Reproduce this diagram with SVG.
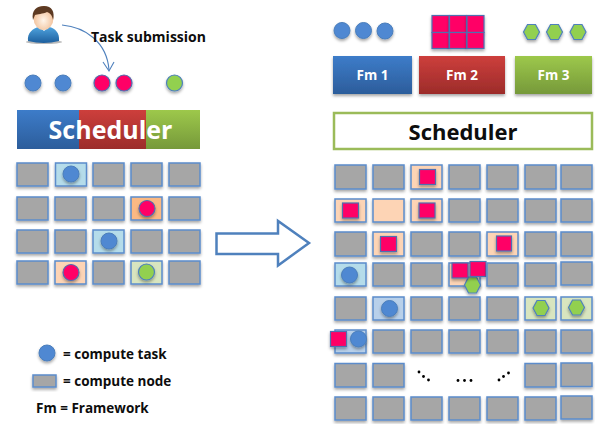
<svg xmlns="http://www.w3.org/2000/svg" xmlns:xlink="http://www.w3.org/1999/xlink" width="595" height="424" viewBox="0 0 595 424">
<style>
text{font-family:"Open Sans","Liberation Sans",sans-serif;font-weight:700;fill:#0d0d0d}
.n{fill:#a6a6a6;stroke:#5b8ccb;stroke-width:1.5;filter:url(#s)}
.b{fill:#b5dcea}.o{fill:#fbb983}.p{fill:#fdd4b5}.g{fill:#d8e5bf}.lb{fill:#b8d0ea}
.ct{fill:#5088d2;stroke:#4a7ebb;stroke-width:1;filter:url(#s)}
.rt{fill:#ff0066;stroke:#4f6fb0;stroke-width:1.2;filter:url(#s)}
.gt{fill:#92d050;stroke:#4f81bd;stroke-width:1.2;filter:url(#s)}
.w{fill:#fff}
.d{fill:#000}
</style>
<defs>
<filter id="s" x="-30%" y="-30%" width="160%" height="170%"><feDropShadow dx="0" dy="2" stdDeviation="1.5" flood-color="#000" flood-opacity="0.35"/></filter>
<linearGradient id="gb" x1="0" y1="0" x2="0" y2="1"><stop offset="0" stop-color="#3d7cc9"/><stop offset="1" stop-color="#2c5d9b"/></linearGradient>
<linearGradient id="gr" x1="0" y1="0" x2="0" y2="1"><stop offset="0" stop-color="#cd3f3c"/><stop offset="1" stop-color="#9c2c2a"/></linearGradient>
<linearGradient id="gg" x1="0" y1="0" x2="0" y2="1"><stop offset="0" stop-color="#9dc84b"/><stop offset="1" stop-color="#76993a"/></linearGradient>
<linearGradient id="gu" x1="0" y1="0" x2="0" y2="1"><stop offset="0" stop-color="#4fa3de"/><stop offset="1" stop-color="#1d5f9e"/></linearGradient>
<radialGradient id="gf" cx="0.5" cy="0.6" r="0.6"><stop offset="0" stop-color="#fff5ea"/><stop offset="1" stop-color="#f0b88c"/></radialGradient>
</defs>

<g id="user">
<ellipse cx="44" cy="42" rx="18" ry="2" fill="#bbb"/>
<path d="M28 41C27 33 33 28 39 27L44 31L49 27C55 28 60 33 59 41Q44 45 28 41Z" fill="url(#gu)"/>
<ellipse cx="43.500" cy="18" rx="10" ry="12" fill="url(#gf)"/>
<path d="M33 20C31 10 37 6 44 6C52 6 55 12 53 20C52 15 50 13 47 12C43 14 37 14 35 15Z" fill="#5d3a22"/>
</g>

<g id="connectors">
<path d="M62 25C85 27 107 42 109 70" fill="none" stroke="#4f81bd" stroke-width="1.1"/>
<path d="M103 62L109 71L114 62" fill="none" stroke="#4f81bd" stroke-width="1.1"/>
</g>
<text id="task-label" x="91" y="42" font-size="14">Task submission</text>

<g id="queue-left">
<circle class="ct" cx="33" cy="83" r="8"/><circle class="ct" cx="63" cy="83" r="8"/>
<circle class="rt" cx="102" cy="83" r="8"/><circle class="rt" cx="124" cy="83" r="8"/>
<circle class="gt" cx="174.500" cy="83" r="8"/>
</g>

<g id="scheduler-left">
<rect x="17" y="110" width="62" height="39" fill="url(#gb)"/>
<rect x="79" y="110" width="67" height="39" fill="url(#gr)"/>
<rect x="146" y="110" width="54" height="39" fill="url(#gg)"/>
<text x="110.500" y="139" font-size="25" text-anchor="middle" style="fill:#fff">Scheduler</text>
</g>

<g id="cluster-left">
<rect class="n" x="17" y="163" width="31" height="23"/>
<g id="l-b1"><rect class="n b" x="55.500" y="163" width="31" height="23"/><circle class="ct" cx="71" cy="174" r="8"/></g>
<rect class="n" x="93" y="163" width="31" height="23"/>
<rect class="n" x="131" y="163" width="31" height="23"/>
<rect class="n" x="169" y="163" width="31" height="23"/>
<rect class="n" x="17" y="197" width="31" height="23"/>
<rect class="n" x="55" y="197" width="31" height="23"/>
<rect class="n" x="93" y="197" width="31" height="23"/>
<g id="l-r1"><rect class="n o" x="131" y="197" width="31" height="23"/><circle class="rt" cx="147" cy="208.500" r="8"/></g>
<rect class="n" x="169" y="197" width="31" height="23"/>
<rect class="n" x="17" y="230" width="31" height="23"/>
<rect class="n" x="55" y="230" width="31" height="23"/>
<g id="l-b2"><rect class="n b" x="93" y="230" width="31" height="23"/><circle class="ct" cx="109" cy="241" r="8"/></g>
<rect class="n" x="131" y="230" width="31" height="23"/>
<rect class="n" x="169" y="230" width="31" height="23"/>
<rect class="n" x="17" y="261" width="31" height="23"/>
<g id="l-r2"><rect class="n p" x="55" y="261" width="31" height="23"/><circle class="rt" cx="71" cy="272.500" r="8"/></g>
<rect class="n" x="93" y="261" width="31" height="23"/>
<g id="l-g1"><rect class="n g" x="131" y="261" width="31" height="23"/><circle class="gt" cx="146.500" cy="272" r="8"/></g>
<rect class="n" x="169" y="261" width="31" height="23"/>
</g>

<g id="legend">
<circle class="ct" cx="47" cy="353" r="8"/>
<text x="63" y="359" font-size="13.500">= compute task</text>
<rect class="n" x="33" y="375" width="23" height="12"/>
<text x="63" y="386" font-size="13.500">= compute node</text>
<text x="36" y="413" font-size="13.500">Fm = Framework</text>
</g>

<g id="big-arrow">
<path d="M216.500 233.500H278V221L309 243L278 265.500V254H216.500Z" fill="#fff" stroke="#4f81bd" stroke-width="2.500"/>
</g>

<g id="tasks-fm1">
<circle class="ct" cx="342" cy="30.500" r="8"/><circle class="ct" cx="363.500" cy="30.500" r="8"/><circle class="ct" cx="385" cy="31" r="8"/>
</g>
<g id="tasks-fm2">
<rect class="rt" x="432" y="15.500" width="17" height="17"/><rect class="rt" x="449.500" y="15.500" width="17" height="17"/><rect class="rt" x="467" y="15.500" width="17" height="17"/>
<rect class="rt" x="432" y="32.500" width="17" height="16"/><rect class="rt" x="449.500" y="32.500" width="17" height="16"/><rect class="rt" x="467" y="32.500" width="17" height="16"/>
</g>
<g id="tasks-fm3">
<path class="gt" d="M523.500 32L527.500 24.500H535.500L539.500 32L535.500 39.500H527.500Z"/>
<path class="gt" d="M546.500 32L550.500 24.500H558.500L562.500 32L558.500 39.500H550.500Z"/>
<path class="gt" d="M570 32L574 24.500H582L586 32L582 39.500H574Z"/>
</g>

<g id="fm1"><rect x="333" y="56" width="79" height="38" fill="url(#gb)" filter="url(#s)"/><text x="372.500" y="80" font-size="13.500" text-anchor="middle" style="fill:#fff">Fm 1</text></g>
<g id="fm2"><rect x="419" y="56" width="86" height="38" fill="url(#gr)" filter="url(#s)"/><text x="462" y="80" font-size="13.500" text-anchor="middle" style="fill:#fff">Fm 2</text></g>
<g id="fm3"><rect x="515" y="56" width="77" height="38" fill="url(#gg)" filter="url(#s)"/><text x="553.500" y="80" font-size="13.500" text-anchor="middle" style="fill:#fff">Fm 3</text></g>

<g id="scheduler-right">
<rect x="334" y="113" width="258" height="36" fill="#fff" stroke="#9bbb59" stroke-width="2.500"/>
<text x="463" y="140" font-size="22" text-anchor="middle">Scheduler</text>
</g>

<g id="cluster-right">
<rect class="n" x="335" y="165" width="31" height="24"/>
<rect class="n" x="373" y="165" width="31" height="24"/>
<g id="r-a"><rect class="n p" x="411" y="165" width="31" height="24"/><rect class="rt" x="419.500" y="169.500" width="16" height="15"/></g>
<rect class="n" x="449" y="165" width="31" height="24"/>
<rect class="n" x="487" y="165" width="31" height="24"/>
<rect class="n" x="525" y="165" width="31" height="24"/>
<rect class="n" x="561" y="165" width="31" height="24"/>

<g id="r-b"><rect class="n p" x="335" y="199" width="31" height="23"/><rect class="rt" x="342.500" y="203" width="16" height="15"/></g>
<rect class="n p" x="373" y="199" width="31" height="23"/>
<g id="r-c"><rect class="n p" x="411" y="199" width="31" height="23"/><rect class="rt" x="419" y="203" width="16" height="15"/></g>
<rect class="n" x="449" y="199" width="31" height="23"/>
<rect class="n" x="487" y="199" width="31" height="23"/>
<rect class="n" x="525" y="199" width="31" height="23"/>
<rect class="n" x="561" y="199" width="31" height="23"/>

<rect class="n" x="335" y="232" width="31" height="24"/>
<g id="r-d"><rect class="n p" x="373" y="232" width="31" height="24"/><rect class="rt" x="380.500" y="236.500" width="16" height="15"/></g>
<rect class="n" x="411" y="232" width="31" height="24"/>
<rect class="n" x="449" y="232" width="31" height="24"/>
<g id="r-e"><rect class="n p" x="487" y="232" width="31" height="24"/><rect class="rt" x="496.500" y="236" width="15" height="15"/></g>
<rect class="n" x="525" y="232" width="31" height="24"/>
<rect class="n" x="561" y="232" width="31" height="24"/>

<g id="r-f"><rect class="n b" x="335" y="263" width="31" height="23"/><circle class="ct" cx="349.500" cy="275" r="8"/></g>
<rect class="n" x="373" y="263" width="31" height="23"/>
<rect class="n" x="411" y="263" width="31" height="23"/>
<g id="r-g"><rect class="n p" x="449" y="263" width="31" height="23"/>
<path class="gt" d="M464.500 285L468.500 277H476.500L480.500 285L476.500 293H468.500Z"/>
<rect class="rt" x="452" y="263" width="16" height="15"/><rect class="rt" x="470" y="261.500" width="16" height="15"/></g>
<rect class="n" x="487" y="263" width="31" height="23"/>
<rect class="n" x="525" y="263" width="31" height="23"/>
<rect class="n" x="561" y="262" width="31" height="23"/>

<rect class="n" x="335" y="297" width="31" height="23"/>
<g id="r-h"><rect class="n lb" x="373" y="297" width="31" height="23"/><circle class="ct" cx="389.500" cy="308.500" r="8"/></g>
<rect class="n" x="411" y="297" width="31" height="23"/>
<rect class="n" x="449" y="297" width="31" height="23"/>
<rect class="n" x="487" y="297" width="31" height="23"/>
<g id="r-i"><rect class="n g" x="525" y="297" width="31" height="23"/><path class="gt" d="M533 308L537 300.500H545L549 308L545 315.500H537Z"/></g>
<g id="r-j"><rect class="n g" x="561" y="297" width="31" height="23"/><path class="gt" d="M568.500 307.500L572.500 300H580.500L584.500 307.500L580.500 315H572.500Z"/></g>

<g id="r-k"><rect class="n lb" x="335" y="330" width="31" height="23"/><rect class="rt" x="330.500" y="331.500" width="16" height="15"/><circle class="ct" cx="358.500" cy="339" r="8"/></g>
<rect class="n" x="373" y="330" width="31" height="23"/>
<rect class="n" x="411" y="330" width="31" height="23"/>
<rect class="n" x="449" y="330" width="31" height="23"/>
<rect class="n" x="487" y="330" width="31" height="23"/>
<rect class="n" x="525" y="330" width="31" height="23"/>
<rect class="n" x="561" y="330" width="31" height="23"/>

<rect class="n" x="335" y="363.500" width="31" height="23.500"/>
<rect class="n" x="373" y="363.500" width="31" height="23.500"/>
<rect class="n" x="525" y="363.500" width="31" height="23.500"/>
<rect class="n" x="561" y="363" width="31" height="23.500"/>

<rect class="n" x="335" y="397" width="31" height="23"/>
<rect class="n" x="373" y="397" width="31" height="23"/>
<rect class="n" x="411" y="397" width="31" height="23"/>
<rect class="n" x="449" y="397" width="31" height="23"/>
<rect class="n" x="487" y="397" width="31" height="23"/>
<rect class="n" x="525" y="397" width="31" height="23"/>
<rect class="n" x="561" y="396" width="31" height="23"/>
</g>

<g id="ellipses">
<circle class="d" cx="419" cy="372" r="1.400"/><circle class="d" cx="423.500" cy="376.500" r="1.400"/><circle class="d" cx="428.500" cy="380" r="1.400"/>
<circle class="d" cx="458" cy="380.500" r="1.400"/><circle class="d" cx="464.500" cy="380.500" r="1.400"/><circle class="d" cx="471" cy="380.500" r="1.400"/>
<circle class="d" cx="499" cy="380" r="1.400"/><circle class="d" cx="503.500" cy="376.500" r="1.400"/><circle class="d" cx="508.500" cy="373" r="1.400"/>
</g>
</svg>
